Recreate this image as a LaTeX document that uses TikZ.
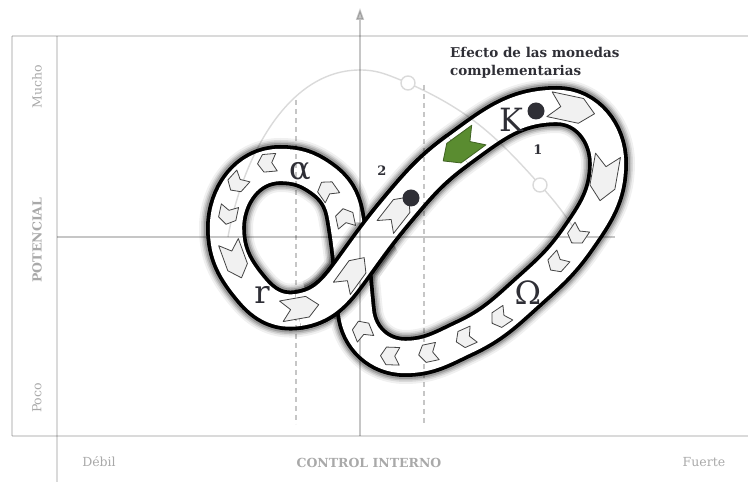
\documentclass[tikz,border=0pt]{standalone}
\usepackage{fontspec}
\setmainfont{DejaVu Serif}
\usetikzlibrary{arrows.meta}

\definecolor{gridgray}{HTML}{DADADA}
\definecolor{axisgray}{HTML}{C6C6C6}
\definecolor{labelgray}{HTML}{A9A9A9}
\definecolor{chevfill}{HTML}{F1F1F1}
\definecolor{chevline}{HTML}{444444}
\definecolor{leafgreen}{HTML}{5A8C30}
\definecolor{inkdark}{HTML}{2F2F36}

\begin{document}
\begin{tikzpicture}[x=1pt, y=1pt,
  gridline/.style={draw=gridgray, line width=1.6pt},
  axisline/.style={draw=axisgray, line width=1.6pt},
  guide/.style={draw=axisgray, line width=1.2pt, dash pattern=on 5pt off 4pt},
  arcline/.style={draw=gridgray, line width=1.4pt},
  ring/.style={circle, draw=gridgray, fill=white, line width=1.4pt, minimum size=14pt, inner sep=0pt},
  band/.style={line width=3.8pt, double=white, double distance=32.4pt, line join=round},
  chev/.style={draw=chevline, fill=chevfill, line width=0.8pt, line join=round},
  bigchev/.style={chev, scale=23},
  midchev/.style={chev, scale=19},
  smallchev/.style={chev, xscale=9.5, yscale=16},
  greenchev/.style={chev, draw=leafgreen!70!black, fill=leafgreen, scale=22},
  phase/.style={font=\fontsize{32}{32}\selectfont, text=inkdark},
  coin/.style={circle, fill=inkdark, inner sep=0pt, minimum size=17pt},
  stagenum/.style={font=\bfseries\fontsize{13}{13}\selectfont, text=inkdark},
  axislabel/.style={font=\bfseries\fontsize{12.5}{12.5}\selectfont, text=labelgray},
  scalelabel/.style={font=\fontsize{12.5}{12.5}\selectfont, text=labelgray}]
  \useasboundingbox (0,0) rectangle (748,482);

  % centre line of the band
  \coordinate (bot) at (298,172);
  \coordinate (s1) at (350,210);
  \coordinate (s2) at (397,272);
  \coordinate (s3) at (458,332);
  \coordinate (top) at (557,376);
  \coordinate (rgt) at (608,319);
  \coordinate (rs) at (577,242);
  \coordinate (om) at (528,190);
  \coordinate (b1) at (465,144);
  \coordinate (bb) at (405,125);
  \coordinate (ll) at (356,170);
  \coordinate (u1) at (345,266);
  \coordinate (u2) at (321,304);
  \coordinate (stop) at (280,317);
  \coordinate (sl) at (226,254);
  \coordinate (sb) at (252,192);

  \def\loopline{(bot) to[out=8,in=234] (s1) to[out=54,in=230] (s2) to[out=50,in=216] (s3)
    to[out=36,in=180] (top) to[out=0,in=90] (rgt) to[out=-90,in=55] (rs) to[out=235,in=42] (om)
    to[out=222,in=25] (b1) to[out=205,in=0] (bb) to[out=180,in=-84] (ll) to[out=96,in=-80] (u1)
    to[out=100,in=-35] (u2) to[out=145,in=0] (stop) to[out=180,in=90] (sl) to[out=270,in=130] (sb)
    to[out=310,in=188] (bot) -- cycle}
  \def\frontline{(bot) to[out=8,in=234] (s1) to[out=54,in=230] (s2) to[out=50,in=216] (s3)}
  \def\chev(#1)(#2)(#3){%
    \draw[shift={(#1)}, rotate=#2, #3] (-1,.55) -- (.4,.55) -- (1,0) -- (.4,-.55) -- (-1,-.55) -- (-.5,0) -- cycle;}

  % shadow and band
  \foreach \w/\o in {54/0.06,50/0.09,47/0.13,44/0.18}
    \draw[line width=\w pt, opacity=\o, line join=round] \loopline;
  \draw[band] \loopline;
  % crossing
  \begin{scope}
    \clip (352,210) circle (50);
    \foreach \w/\o in {54/0.06,50/0.09,47/0.13,44/0.18}
      \draw[line width=\w pt, opacity=\o, line join=round] \frontline;
  \end{scope}
  \draw[band] \frontline;

  % chart behind
  \node[ring] (ring1) at (408,399) {};
  \node[ring] (ring2) at (540,297) {};
  \coordinate (arcfoot) at (228,245);
  \coordinate (arctop) at (360,412);
  \coordinate (arcend) at (580,245);
  \begin{scope}[blend mode=multiply]
    \draw[gridline] (12,446) -- (748,446);
    \draw[gridline] (12,46) -- (748,46);
    \draw[gridline] (12,446) -- (12,46);
    \draw[gridline] (57,446) -- (57,0);
    \draw[axisline, -{Triangle[width=8pt,length=12pt]}] (360,46) -- (360,474);
    \draw[axisline] (57,245) -- (615,245);
    \draw[guide] (296,382) -- (296,58);
    \draw[guide] (424,397) -- (424,58);
    \draw[arcline] (arcfoot) to[out=80,in=180,looseness=0.9] (arctop) to[out=0,in=158] (ring1);
    \draw[arcline] (ring1) to[out=-25,in=132] (ring2);
    \draw[arcline] (ring2) to[out=-48,in=125] (arcend);
  \end{scope}

  % arrows along the band
  \foreach \x/\y/\a in {345/264/102, 327/292/125, 267/319/185, 237/299/228, 228/267/258,
      577/247/236, 557/219/228, 500/164/214, 465/144/204, 428/129/192, 390/126/178, 362/152/112}
    \chev(\x,\y)(\a)(smallchev);
  \foreach \x/\y/\a in {235/222/290, 300/174/10, 353/209/54, 397/270/52}
    \chev(\x,\y)(\a)(midchev);
  \chev(572,373)(-12)(bigchev);
  \chev(604,304)(-100)(bigchev);
  \chev(461,334)(216)(greenchev);

  \node[coin] (k1) at (536,371) {};
  \node[coin] (k2) at (411,284) {};
  \node[stagenum] (n1) at (538,332) {1};
  \node[stagenum] (n2) at (382,311) {2};

  \node[phase] (alpha) at (300,310) {α};
  \node[phase] (kappa) at (511,362) {K};
  \node[phase] (rr) at (262,187) {r};
  \node[phase] (omega) at (528,189) {Ω};

  \node[anchor=north west, align=left, inner sep=0pt, text=inkdark,
    font=\bfseries\fontsize{13.5}{18}\selectfont] (effect) at (450,435) {Efecto de las monedas\\complementarias};

  \node[axislabel] (xlab) at (369,19) {CONTROL INTERNO};
  \node[scalelabel] (weak) at (99,20) {Débil};
  \node[scalelabel] (strong) at (704,20) {Fuerte};
  \node[scalelabel, rotate=90] (much) at (37,395) {Mucho};
  \node[axislabel, rotate=90] (ylab) at (37,242) {POTENCIAL};
  \node[scalelabel, rotate=90] (little) at (37,84) {Poco};
\end{tikzpicture}
\end{document}
